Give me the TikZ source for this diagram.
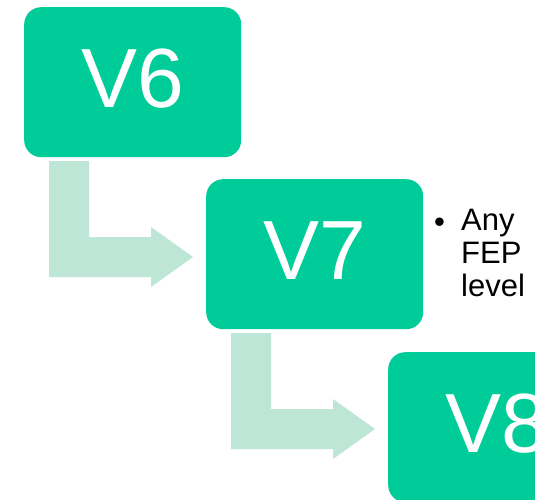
\documentclass[tikz,border=0pt]{standalone}
\usepackage{fontspec}
\setmainfont{Liberation Sans}
\definecolor{boxgreen}{RGB}{0,204,153}
\definecolor{arrowgreen}{RGB}{190,230,214}
\tikzset{
  verbox/.style={fill=boxgreen, rounded corners=17pt, minimum width=217pt,
    minimum height=150pt, anchor=north west, inner sep=0pt, text=white,
    text depth=8pt, font=\fontsize{84}{84}\selectfont},
  bentarrow/.style={fill=arrowgreen}
}
\begin{document}
\begin{tikzpicture}[x=1pt,y=-1pt]
      \useasboundingbox (0,0) rectangle (535,499);
      \clip (0,0) rectangle (535,499);
      \node[verbox] (v6) at (24,7) {V6};
      \node[verbox] (v7) at (206,179) {V7};
      \node[verbox] (v8) at (388,352) {V8};
      % bent arrows between the boxes
      \foreach \dx/\dy in {0/0, 182/172}
        \fill[bentarrow, shift={(\dx,\dy)}] (49,161) -- (89,161) -- (89,237)
          -- (151,237) -- (151,227) -- (193,257) -- (151,287) -- (151,277)
          -- (49,277) -- cycle;
      \node[anchor=base west, inner sep=0pt, font=\fontsize{31}{33}\selectfont] (bul) at (434,232) {•};
      \node[anchor=north west, inner sep=0pt, align=left, font=\fontsize{31}{33}\selectfont] (fep) at (461,209) {Any\\FEP\\level};
    \end{tikzpicture}
\end{document}
